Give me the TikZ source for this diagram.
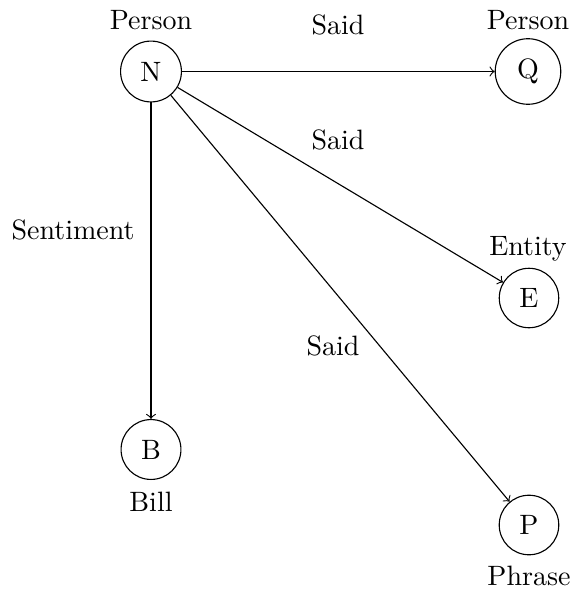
\documentclass[tikz,border=0pt]{standalone}
\begin{document}
\begin{tikzpicture}[x=0.357pt,y=-0.357pt,
  ent/.style={circle,draw,inner sep=4.1pt},
  lab/.style={anchor=base},
  rel/.style={->}]
\useasboundingbox (0,0) rectangle (574,595);
\node[ent] (N) at (151,71.5) {N};
\node[ent] (Q) at (528,71.5) {Q};
\node[ent] (E) at (529,298) {E};
\node[ent] (B) at (151,449.5) {B};
\node[ent] (P) at (529,525) {P};
\node[lab] (lN) at (151,29) {Person};
\node[lab] (lQ) at (528,29) {Person};
\node[lab] (lE) at (528,255) {Entity};
\node[lab] (lB) at (151,511) {Bill};
\node[lab] (lP) at (529,585) {Phrase};
\draw[rel] (N) -- (Q);
\draw[rel] (N) -- (E);
\draw[rel] (N) -- (P);
\draw[rel] (N) -- (B);
\node[lab] (s1) at (338,34) {Said};
\node[lab] (s2) at (338,149) {Said};
\node[lab] (s3) at (333,355) {Said};
\node[lab] (s4) at (73,239) {Sentiment};
\end{tikzpicture}
\end{document}
